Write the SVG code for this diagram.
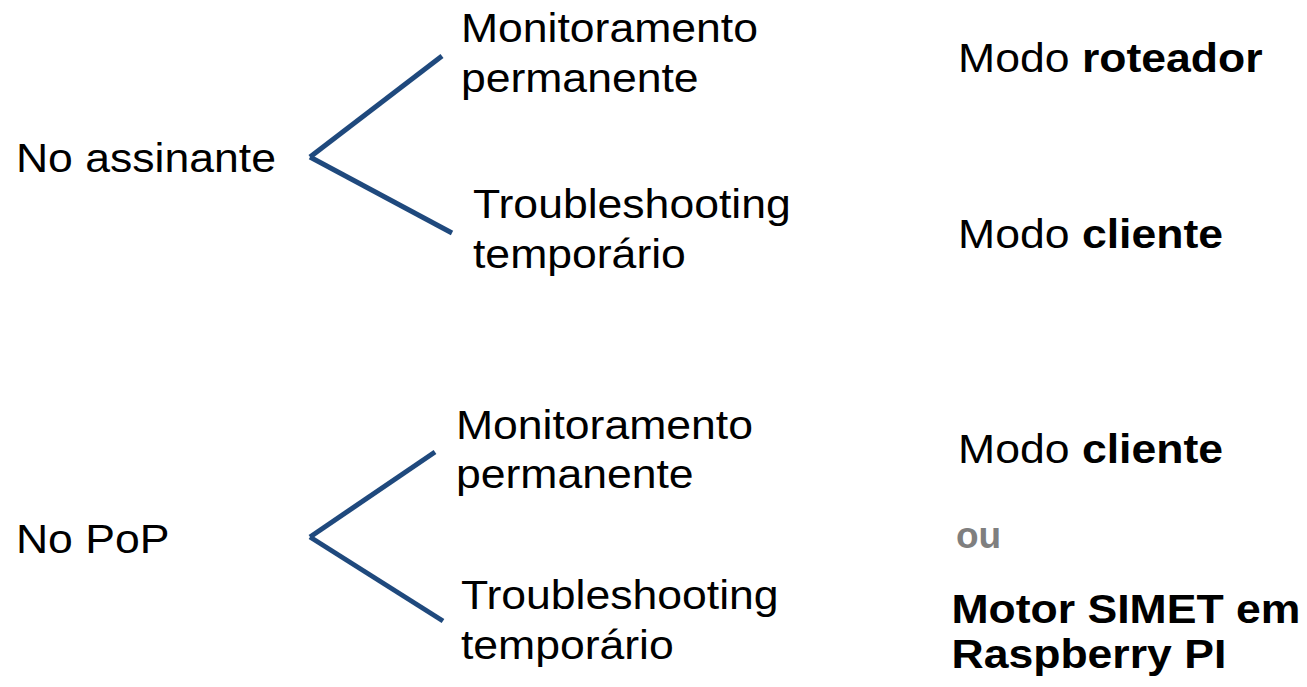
<svg xmlns="http://www.w3.org/2000/svg" width="1307" height="687" viewBox="0 0 1307 687">
<style>
.t{font-family:"Liberation Sans",Arial,sans-serif;font-size:40.5px;fill:#000}
.b{font-weight:bold}
.ou{font-family:"Liberation Sans",Arial,sans-serif;font-size:37px;font-weight:bold;fill:#7f7f7f}
.c{stroke:#1F497D;stroke-width:5;fill:none;stroke-linecap:butt}
</style>
<rect width="1307" height="687" fill="#fff"/>
<g id="connectors">
<line class="c" x1="442" y1="56" x2="310" y2="157"/>
<line class="c" x1="310" y1="157" x2="452" y2="233"/>
<line class="c" x1="435" y1="452" x2="310" y2="537"/>
<line class="c" x1="310" y1="537" x2="443" y2="621"/>
</g>
<g transform="scale(1.1 1)">
<g id="no-assinante"><text class="t" x="14.5" y="172">No assinante</text></g>
<g id="monit-1"><text class="t" x="419" y="42">Monitoramento</text><text class="t" x="419" y="92">permanente</text></g>
<g id="trouble-1"><text class="t" x="430" y="218">Troubleshooting</text><text class="t" x="430" y="268">temporário</text></g>
<g id="modo-roteador"><text class="t" x="871" y="72">Modo <tspan class="b">roteador</tspan></text></g>
<g id="modo-cliente-1"><text class="t" x="871" y="248">Modo <tspan class="b">cliente</tspan></text></g>
<g id="no-pop"><text class="t" x="14.5" y="553">No PoP</text></g>
<g id="monit-2"><text class="t" x="414.5" y="439">Monitoramento</text><text class="t" x="414.5" y="488">permanente</text></g>
<g id="trouble-2"><text class="t" x="419" y="609">Troubleshooting</text><text class="t" x="419" y="659">temporário</text></g>
<g id="modo-cliente-2"><text class="t" x="871" y="463">Modo <tspan class="b">cliente</tspan></text></g>
<g id="motor"><text class="t b" x="865" y="623">Motor SIMET em</text><text class="t b" x="865" y="668">Raspberry PI</text></g>
</g>
<g id="ou"><text class="ou" x="956" y="548">ou</text></g>
</svg>
